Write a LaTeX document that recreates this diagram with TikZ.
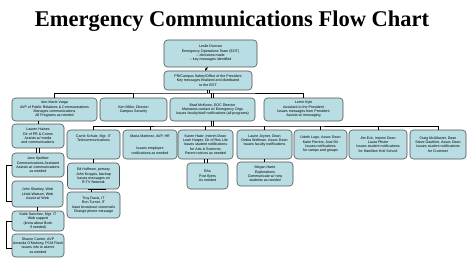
\documentclass[tikz,border=0pt]{standalone}
\usepackage{fontspec}
\setmainfont{Liberation Serif}
\newfontfamily\boxfont{Liberation Sans}
\usetikzlibrary{arrows.meta}
\definecolor{boxfill}{RGB}{184,221,227}
\definecolor{boxline}{RGB}{80,80,80}
\tikzset{
  box/.style={draw=boxline, fill=boxfill, rounded corners=3.5pt, line width=0.6pt,
    align=center, inner sep=0pt, font=\boxfont\fontsize{3.6}{4.3}\selectfont},
  conn/.style={draw=black, line width=0.9pt},
}
\begin{document}
\begin{tikzpicture}[x=1pt,y=-1pt]
\useasboundingbox[fill=white] (0,0) rectangle (474,270);
\node[font=\bfseries\fontsize{22.5}{25}\selectfont] (title) at (232,21.5) {Emergency Communications Flow Chart};

% level 1
\node[box, minimum width=93pt, minimum height=27pt] (top) at (210.5,53.5)
  {Leslie Duncan\\Emergency Operations Team (EOT)\\-- decisions made\\-- key messages identified};
\node[box, minimum width=88pt, minimum height=19pt] (pr) at (208,80.5)
  {PR/Campus Safety/Office of the President\\Key messages finalized and distributed\\to the EOT};

% level 2
\node[box, minimum width=85pt, minimum height=23pt] (ann) at (54.5,109.5)
  {Ann-Marie Varga\\AVP of Public Relations \& Communications\\Manages communications\\All Programs as needed};
\node[box, minimum width=67pt, minimum height=23pt] (ken) at (133.5,109.5)
  {Ken Miller, Director\\Campus Security};
\node[box, minimum width=85pt, minimum height=23pt] (brad) at (212.5,109.5)
  {Brad McKown, EOC Director\\Maintains contact w/ Emergency Orgs\\Issues faculty/staff notifications (all programs)};
\node[box, minimum width=79pt, minimum height=23pt] (lorrie) at (303.5,109.5)
  {Lorrie Kyle\\Assistant to the President\\Issues messages from President\\Assists w/ messaging};

% level 3
\node[box, minimum width=53pt, minimum height=29pt] (carrie) at (93.5,144.5)
  {Carrie Schulz, Mgr. IT\\Telecommunications\\[8pt]};
\node[box, minimum width=54pt, minimum height=29pt] (maria) at (150,144.5)
  {Maria Martinez, AVP, HR\\[4pt]\\Issues employee\\notifications as needed};
\node[box, minimum width=55pt, minimum height=29pt] (karen) at (205.5,144.5)
  {Karen Haier, Interim Dean\\Leah Harper, Dir of Res Life\\Issues student notifications\\for Arts \& Sciences\\Parent notices as needed};
\node[box, minimum width=55pt, minimum height=29pt] (laurie) at (264.5,144.5)
  {Laurie Joyner, Dean\\Debra Wellman, Assoc Dean\\Issues faculty notifications\\[4pt]};
\node[box, minimum width=53pt, minimum height=29pt] (udeth) at (320.5,144.5)
  {Udeth Lugo, Assoc Dean\\Katie Perrine, Asst Dir\\Issues notifications\\for camps and groups};
\node[box, minimum width=58pt, minimum height=29pt] (jim) at (378,144.5)
  {Jim Eck, Interim Dean\\Laura Pfister\\Issues student notifications\\for Hamilton Holt School};
\node[box, minimum width=56pt, minimum height=29pt] (craig) at (438,144.5)
  {Craig McAllaster, Dean\\Steve Gauthier, Assoc Dean\\Issues student notifications\\for Crummer};

% left column
\node[box, minimum width=52pt, minimum height=24pt] (lauren) at (38,136)
  {Lauren Haines\\Dir of PR \& Comm\\Assists w/ media\\and communications};
\node[box, minimum width=52pt, minimum height=24pt] (jann) at (38,165)
  {Jann Spellser\\Communications Assistant\\Assists w/ communications\\as needed};
\node[box, minimum width=51pt, minimum height=26pt] (john) at (37.5,194)
  {John Sharkey, Web\\Linda Watson, Web\\Assist w/ Web};
\node[box, minimum width=52pt, minimum height=20pt] (katie) at (38,221)
  {Katie Sanchez, Mgr. IT\\Web support\\(know about Bosh\\if needed)};
\node[box, minimum width=52pt, minimum height=23pt] (sharon) at (38,245.5)
  {Sharon Carrier, AVP\\Amanda O'Mahony, PCM Flash\\Issues info to alumni\\as needed};

% under carrie
\node[box, minimum width=52pt, minimum height=26pt] (ed) at (93.5,176)
  {Ed Huffman, primary\\John Kroppis, backup\\Issues messages on\\R-TV Network};
\node[box, minimum width=53pt, minimum height=26pt] (troy) at (93.5,205)
  {Troy Davis, IT\\Ron Turner, IT\\Issue broadcast voicemails\\Change phone message};

% under karen / laurie
\node[box, minimum width=41pt, minimum height=26pt] (ras) at (207.5,176)
  {RAs\\Post flyers\\As needed};
\node[box, minimum width=56pt, minimum height=24pt] (megan) at (265,174)
  {Megan Harte\\Explorations\\Communicate w/ new\\students as needed};

% connectors
\draw[conn, -{Stealth[length=2.5pt,width=2.5pt]}] ([xshift=-3pt]top.south) -- ([xshift=-3pt]pr.north);

\coordinate (busA) at (208,93);
\draw[conn] ([xshift=-1pt]pr.south) -- ([xshift=-1pt]busA);
\draw[conn] ([xshift=1pt]pr.south) -- ([xshift=1pt]busA);
\draw[conn] (ann.north) |- (busA) -| (lorrie.north);
\draw[conn] (ken.north) -- (ken.north |- busA);
\draw[conn] ([xshift=-1pt]brad.north) -- ([xshift=-1pt]brad.north |- busA);
\draw[conn] ([xshift=1pt]brad.north) -- ([xshift=1pt]brad.north |- busA);

\coordinate (busB) at (212.5,126);
\draw[conn] ([xshift=-1pt]brad.south) -- ([xshift=-1pt]busB);
\draw[conn] ([xshift=1pt]brad.south) -- ([xshift=1pt]busB);
\draw[conn] (carrie.north) |- (busB) -| (craig.north);
\foreach \n in {maria,karen,laurie,udeth,jim}
  \draw[conn] (\n.north) -- (\n.north |- busB);

\draw[conn] (ann.south -| lauren.north) -- (lauren.north);
\draw[conn] ([xshift=-1.5pt]lauren.south) -- ([xshift=-1.5pt]jann.north);
\draw[conn] ([xshift=1.5pt]lauren.south) -- ([xshift=1.5pt]jann.north);
\draw[conn] (jann.west) -- ++(-5,0) |- ([yshift=-7pt]john.west);
\draw[conn] (john.south) -- (john.south |- katie.north);
\draw[conn] (katie.west) -- ++(-5,0) |- ([yshift=-3pt]sharon.west);

\draw[conn] (carrie.south) -- (ed.north);
\draw[conn] ([xshift=-2pt]ed.south) -- ([xshift=-2pt]troy.north);
\draw[conn] ([xshift=-6pt]ed.south) -- ([xshift=12pt]ed.south);
\draw[conn] ([xshift=-1.5pt]karen.south) -- ([xshift=-1.5pt]karen.south |- ras.north);
\draw[conn] ([xshift=1.5pt]karen.south) -- ([xshift=1.5pt]karen.south |- ras.north);
\draw[conn] (laurie.south) -- (laurie.south |- megan.north);
\end{tikzpicture}
\end{document}
